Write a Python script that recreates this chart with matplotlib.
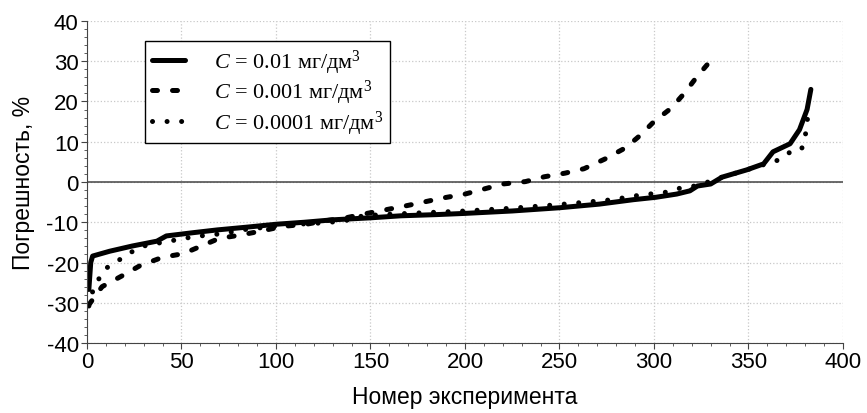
import matplotlib
matplotlib.use("Agg")
import matplotlib.pyplot as plt
from matplotlib.ticker import MultipleLocator

x_c1 = [1, 2, 3, 6, 12, 24, 37, 42, 56, 69, 85, 100, 115, 130, 150, 166, 185, 200,
        225, 250, 271, 289, 301, 312, 319, 323, 330, 336, 349, 358, 363, 372, 377, 381, 383]
y_c1 = [-26.7, -20, -18.4, -18, -17.2, -15.9, -14.7, -13.4, -12.6, -11.9, -11.2, -10.5,
        -10, -9.4, -8.9, -8.4, -8.1, -7.8, -7.2, -6.4, -5.5, -4.4, -3.8, -3.0, -2.2, -1,
        -0.5, 1.2, 3, 4.5, 7.5, 9.5, 13, 18, 23]

x_c2 = [1, 8, 19, 28, 40, 51, 60, 70, 81, 92, 104, 116, 125, 136, 146, 157, 170, 188,
        200, 210, 220, 232, 242, 253, 263, 274, 285, 293, 300, 309, 316, 322, 327, 331]
y_c2 = [-30.5, -26, -23.2, -20.8, -18.7, -17.8, -16, -14, -13.2, -12.2, -11, -10.5,
        -9.7, -9, -8, -7, -5.8, -4, -3, -1.75, -0.5, 0.1, 1.3, 2.2, 3.3, 5.7, 8.5, 11.7,
        15, 18.3, 22, 25.7, 28.5, 30.7]

x_c3 = [1, 3, 6, 9.5, 16, 22, 29, 43, 50, 57, 65, 73, 85, 100, 111, 123, 136, 146, 160,
        180, 200, 225, 250, 278, 292, 307, 314, 323, 336, 349, 358, 364, 371, 378, 380,
        381, 382]
y_c3 = [-30.8, -27.2, -24.3, -21.6, -19.7, -17.8, -16, -14.7, -14.2, -13.5, -13.2, -12.7,
        -11.7, -11, -10.5, -10.2, -9.7, -8.4, -8, -7.6, -7.2, -6.5, -5.6, -4.4, -3.3,
        -2.5, -1.5, -0.9, 1.2, 3, 4.3, 5, 7.2, 8, 11.2, 15, 18]

labels = [r"$C$ = 0.01 мг/дм$^3$", r"$C$ = 0.001 мг/дм$^3$", r"$C$ = 0.0001 мг/дм$^3$"]

plt.rcParams['font.family'] = ['Liberation Sans', 'DejaVu Sans']
plt.rcParams['axes.unicode_minus'] = False
plt.rcParams['mathtext.fontset'] = 'custom'
plt.rcParams['mathtext.rm'] = 'Liberation Serif'
plt.rcParams['mathtext.it'] = 'Liberation Serif:italic'

fig = plt.figure(figsize=(8.67, 4.14), dpi=100)
ax = fig.add_axes([0.1003, 0.169, 0.872, 0.778])

ax.plot(x_c1, y_c1, color='black', lw=3.6, solid_capstyle='round', label=labels[0])
ax.plot(x_c2, y_c2, color='black', lw=3.6, linestyle=(0, (1.0, 3.0)),
        dash_capstyle='round', label=labels[1])
ax.plot(x_c3, y_c3, color='black', lw=3.6, linestyle=(0, (0.01, 2.9)),
        dash_capstyle='round', label=labels[2])

ax.axhline(0, color='#444444', lw=1.1, zorder=1)

ax.set_xlim(0, 400)
ax.set_ylim(-40, 40)
ax.xaxis.set_major_locator(MultipleLocator(50))
ax.xaxis.set_minor_locator(MultipleLocator(10))
ax.yaxis.set_major_locator(MultipleLocator(10))
ax.yaxis.set_minor_locator(MultipleLocator(2))
ax.grid(True, which='major', linestyle=':', color='#c8c8c8', lw=0.9)
ax.set_axisbelow(True)

for s in ['top', 'right']:
    ax.spines[s].set_visible(False)
ax.spines['left'].set_color('#444444')
ax.spines['bottom'].set_color('#444444')
ax.tick_params(which='major', length=4, width=0.8, colors='#444444', labelcolor='black',
               labelsize=16, pad=2)
ax.tick_params(which='minor', length=2, width=0.6, colors='#444444')

ax.set_xlabel("Номер эксперимента", fontsize=16.5, labelpad=9)
ax.set_ylabel("Погрешность, %", fontsize=16.5, labelpad=8)

leg = ax.legend(loc='upper left', bbox_to_anchor=(0.0767, 0.938), fancybox=False,
                framealpha=1, edgecolor='black', handlelength=1.5, handletextpad=1.3,
                labelspacing=0.1, borderpad=0.3, borderaxespad=0,
                prop={'family': 'Liberation Serif', 'size': 16})
leg.get_frame().set_linewidth(1.0)

fig.savefig("out.png", dpi=100)
